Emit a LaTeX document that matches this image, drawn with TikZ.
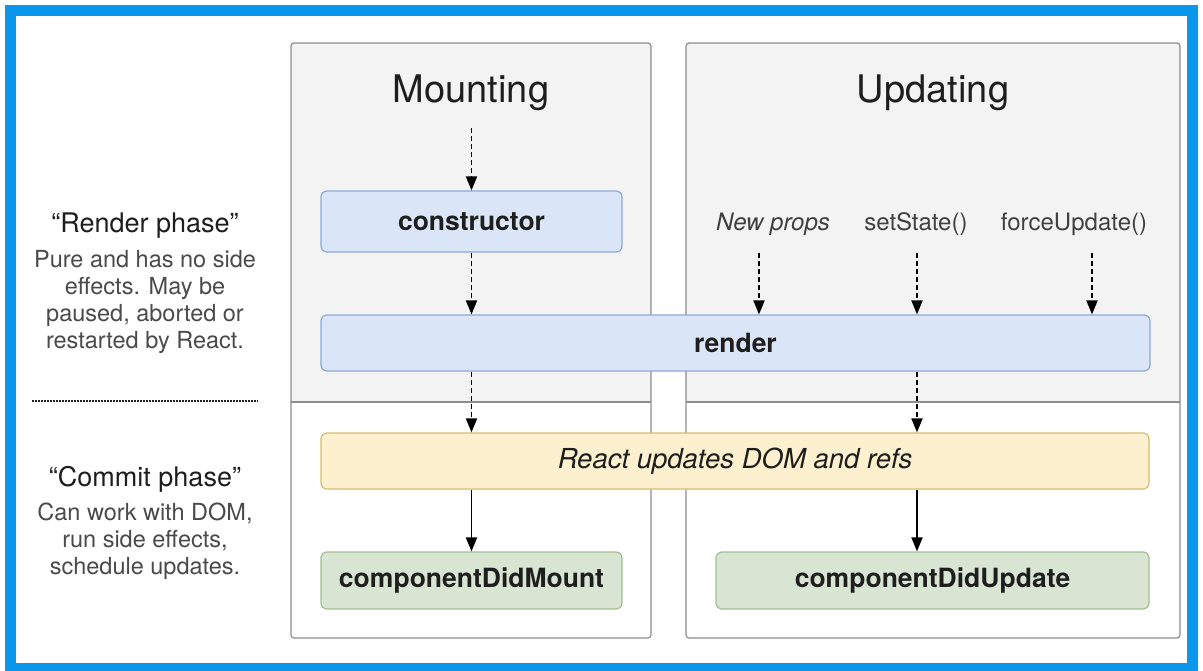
\documentclass[tikz,border=0pt]{standalone}
\usepackage{fontspec}
\setmainfont{TeX Gyre Heros}
\usetikzlibrary{arrows.meta,positioning}
\definecolor{frameblue}{HTML}{0A97EC}
\definecolor{panelgray}{HTML}{F3F3F3}
\definecolor{panelline}{HTML}{8C8C8C}
\definecolor{bluefill}{HTML}{DAE6F8}
\definecolor{blueline}{HTML}{8EA8D6}
\definecolor{yelfill}{HTML}{FCF0CE}
\definecolor{yelline}{HTML}{D6BB73}
\definecolor{grnfill}{HTML}{D9E5D3}
\definecolor{grnline}{HTML}{A0BF92}
\definecolor{headgray}{HTML}{1E1E1E}
\definecolor{bodygray}{HTML}{4A4A4A}

\tikzset{
  box/.style={rounded corners=6pt, line width=1.2pt, inner sep=0pt,
    text=headgray, font=\fontsize{26.5}{30}\selectfont\bfseries},
  bluebox/.style={box, draw=blueline, fill=bluefill},
  yelbox/.style={box, draw=yelline, fill=yelfill,
    font=\fontsize{27.5}{30}\selectfont\itshape},
  grnbox/.style={box, draw=grnline, fill=grnfill},
  panel/.style={draw=panelline, line width=1.2pt, rounded corners=3pt},
  title/.style={font=\fontsize{38}{42}\selectfont, text=headgray},
  trigger/.style={font=\fontsize{24}{28}\selectfont, text=headgray!85},
  phasehd/.style={font=\fontsize{27}{30}\selectfont, text=headgray},
  phasetxt/.style={font=\fontsize{23.5}{27}\selectfont, text=bodygray,
    align=center, inner sep=0pt},
  dasharrow/.style={line width=1.9pt, dash pattern=on 5pt off 3pt,
    -{Triangle[length=14pt,width=11pt]}},
  solidarrow/.style={line width=1.9pt, -{Triangle[length=14pt,width=11pt]}},
}

\begin{document}
\begin{tikzpicture}[x=1pt,y=-1pt]
\useasboundingbox (0,0) rectangle (1203,670);
\fill[white] (0,0) rectangle (1203,670);

% panels
\begin{scope}
\clip[rounded corners=3pt] (291,43) rectangle (651,638);
\fill[panelgray] (291,43) rectangle (651,402);
\end{scope}
\draw[panel] (291,43) rectangle (651,638);
\draw[panelline, line width=1.2pt] (291,402) -- (651,402);
\begin{scope}
\clip[rounded corners=3pt] (686,43) rectangle (1180,638);
\fill[panelgray] (686,43) rectangle (1180,402);
\end{scope}
\draw[panel] (686,43) rectangle (1180,638);
\draw[panelline, line width=1.2pt] (686,402) -- (1180,402);

\node[title] (mounting) at (471,93) {Mounting};
\node[title] (updating) at (933,93) {Updating};

% boxes
\node[bluebox, minimum width=301pt, minimum height=61pt] (ctor) at (471.5,221.5) {constructor};
\node[bluebox, minimum width=829pt, minimum height=56pt] (render) at (735.5,343) {render};
\node[yelbox, minimum width=828pt, minimum height=56pt] (dom) at (735,461) {React updates DOM and refs};
\node[grnbox, minimum width=301pt, minimum height=57pt] (cdm) at (471.5,580.5) {componentDidMount};
\node[grnbox, minimum width=433pt, minimum height=57pt] (cdu) at (932.5,580.5) {componentDidUpdate};

% triggers
\node[trigger, font=\fontsize{24}{28}\selectfont\itshape] (props) at (773,224) {New props};
\node[trigger] (setstate) at (916,224) {setState()};
\node[trigger] (force) at (1074,224) {forceUpdate()};

\coordinate (mstart) at (471.5,128);
\coordinate (p1) at (759,253);
\coordinate (p2) at (917,253);
\coordinate (p3) at (1092,253);

% arrows
\draw[dasharrow] (mstart) -- (ctor.north);
\draw[dasharrow] (ctor.south) -- (ctor.south |- render.north);
\draw[dasharrow] (p1) -- (p1 |- render.north);
\draw[dasharrow] (p2) -- (p2 |- render.north);
\draw[dasharrow] (p3) -- (p3 |- render.north);
\draw[dasharrow] (ctor |- render.south) -- (ctor |- dom.north);
\draw[dasharrow] (p2 |- render.south) -- (p2 |- dom.north);
\draw[solidarrow] (ctor |- dom.south) -- (cdm.north);
\draw[solidarrow] (p2 |- dom.south) -- (p2 |- cdu.north);

% phases
\node[phasehd] (renderhd) at (145,226) {“Render phase”};
\node[phasetxt, below=8pt of renderhd] (rendertxt)
  {Pure and has no side\\effects. May be\\paused, aborted or\\restarted by React.};
\coordinate (sepl) at (32,401);
\coordinate (sepr) at (258,401);
\draw[line width=2.5pt, dash pattern=on 1.5pt off 1.5pt, headgray] (sepl) -- (sepr);
\node[phasehd] (commithd) at (145,479) {“Commit phase”};
\node[phasetxt, below=7pt of commithd] (committxt)
  {Can work with DOM,\\run side effects,\\schedule updates.};

% frame
\draw[frameblue, line width=11pt] (10.5,10) rectangle (1192.5,668.5);
\end{tikzpicture}
\end{document}
